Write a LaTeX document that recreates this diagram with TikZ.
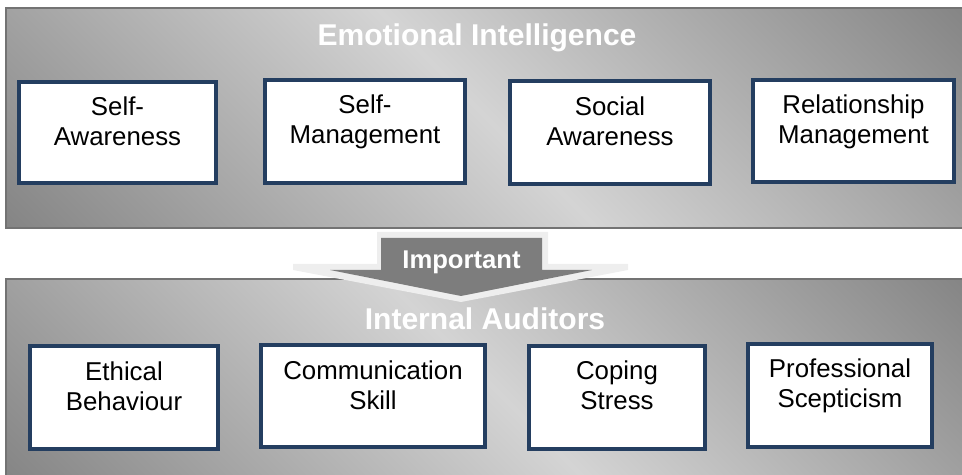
\documentclass[tikz,border=0pt]{standalone}
\usepackage{fontspec}
\setmainfont{Liberation Sans}
\definecolor{paneldark}{RGB}{100,100,100}
\definecolor{panellight}{RGB}{212,212,212}
\definecolor{boxline}{RGB}{36,62,96}
\definecolor{arrowfill}{RGB}{125,125,125}
\definecolor{arrowedge}{RGB}{238,238,238}
\pgfdeclareverticalshading{panelshade}{100bp}{color(0bp)=(paneldark); color(50bp)=(panellight); color(100bp)=(paneldark)}

\begin{document}
\begin{tikzpicture}[x=0.02cm, y=0.02cm,
    panel/.style={shading=panelshade, shading angle=-45, draw=black!55, line width=0.03cm},
    skill/.style={draw=boxline, fill=white, line width=0.08cm},
    lbl/.style={align=center, font=\fontsize{14.7}{17}\selectfont},
    title/.style={anchor=base, text=white, font=\fontsize{17.1}{20}\selectfont\bfseries}]
  \useasboundingbox (0,0) rectangle (962,475);

  % grey bands
  \shadedraw[panel] (6,247) rectangle (968,467);
  \shadedraw[panel] (6,-8) rectangle (968,196);

  % block arrow between the bands
  \fill[arrowedge] (377,243) -- (548,243) -- (548,211) -- (628,211) -- (628,205) -- (461,173)
    -- (293,205) -- (293,211) -- (377,211) -- cycle;
  \fill[arrowfill] (381,237) -- (542,237) -- (542,205) -- (592,205) -- (461,179)
    -- (330,205) -- (381,205) -- cycle;
  \node[anchor=base, text=white, font=\fontsize{14.6}{17}\selectfont\bfseries] (imp) at (461.5,206) {Important};

  \node[title] (ei) at (477,429.5) {Emotional Intelligence};
  \node[title] (ia) at (485,145) {Internal Auditors};

  % upper row
  \node[skill, minimum width=3.94cm, minimum height=2.02cm] (sa) at (117.5,342.5) {};
  \node[lbl] (sa-t) at (117.5,353.5) {Self-\\Awareness};
  \node[skill, minimum width=4.00cm, minimum height=2.06cm] (sm) at (365,343.5) {};
  \node[lbl] (sm-t) at (365,353) {Self-\\Management};
  \node[skill, minimum width=4.00cm, minimum height=2.06cm] (soa) at (610,342.5) {};
  \node[lbl] (soa-t) at (610,353.5) {Social\\Awareness};
  \node[skill, minimum width=4.02cm, minimum height=2.04cm] (rm) at (853.5,344) {};
  \node[lbl] (rm-t) at (853.5,353.5) {Relationship\\Management};

  % lower row
  \node[skill, minimum width=3.76cm, minimum height=2.06cm] (eb) at (124,77.5) {};
  \node[lbl] (eb-t) at (124,89) {Ethical\\Behaviour};
  \node[skill, minimum width=4.48cm, minimum height=2.04cm] (cs) at (373,79) {};
  \node[lbl] (cs-t) at (373,89.5) {Communication\\Skill};
  \node[skill, minimum width=3.52cm, minimum height=2.06cm] (cps) at (617,77.5) {};
  \node[lbl] (cps-t) at (617,89.5) {Coping\\Stress};
  \node[skill, minimum width=3.68cm, minimum height=2.06cm] (ps) at (840,79.5) {};
  \node[lbl] (ps-t) at (840,89) {Professional\\Scepticism};
\end{tikzpicture}
\end{document}
